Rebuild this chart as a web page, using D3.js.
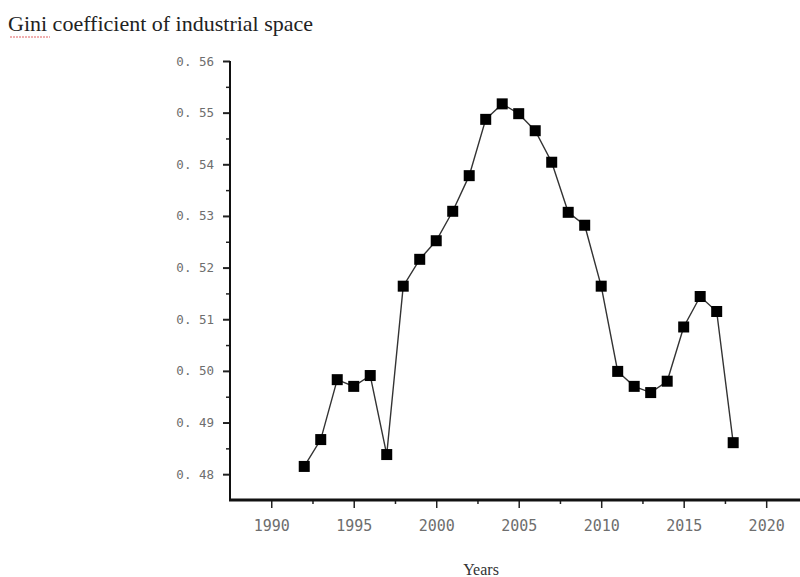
<!DOCTYPE html>
<html>
<head>
<meta charset="utf-8">
<script src="https://cdn.jsdelivr.net/npm/d3@7"></script>
<style>
  body { margin: 0; background: #fff; }
  svg { display: block; }
</style>
</head>
<body>
<svg width="800" height="577"></svg>
<script>
// values
var years = [1992, 1993, 1994, 1995, 1996, 1997, 1998, 1999, 2000, 2001, 2002, 2003, 2004,
             2005, 2006, 2007, 2008, 2009, 2010, 2011, 2012, 2013, 2014, 2015, 2016, 2017, 2018];
var gini = [0.4815, 0.4867, 0.4983, 0.4970, 0.4991, 0.4838, 0.5164, 0.5216, 0.5252, 0.5309,
            0.5378, 0.5487, 0.5517, 0.5498, 0.5465, 0.5404, 0.5307, 0.5282, 0.5164, 0.4999,
            0.4970, 0.4958, 0.4980, 0.5085, 0.5144, 0.5115, 0.4861];
var xTicks = [1990, 1995, 2000, 2005, 2010, 2015, 2020];
var yTicks = [0.48, 0.49, 0.50, 0.51, 0.52, 0.53, 0.54, 0.55, 0.56];

var svg = d3.select("svg");

var x = d3.scaleLinear().domain([1987.5, 2022.05]).range([230, 800]);
var y = d3.scaleLinear().domain([0.475, 0.56]).range([500, 61]);

// title
svg.append("text")
  .attr("x", 8).attr("y", 31)
  .attr("font-family", "Liberation Serif, Times New Roman, serif")
  .attr("font-size", 22)
  .attr("fill", "#222")
  .text("Gini coefficient of industrial space");

// red spell check underline under "Gini"
svg.append("path")
  .attr("d", "M10,37 L50,37")
  .attr("stroke", "#e06060").attr("stroke-width", 1)
  .attr("stroke-dasharray", "2,1");

// minor ticks
var yMinor = yTicks.slice(0, -1).map(function (d) { return d + 0.005; });
var xMinor = xTicks.slice(0, -1).map(function (d) { return d + 2.5; });

svg.append("g")
  .attr("transform", "translate(230,0)")
  .call(d3.axisLeft(y).tickValues(yMinor).tickSize(4).tickFormat(""))
  .call(function (g) { g.select(".domain").remove(); })
  .selectAll("line").attr("stroke", "#222").attr("stroke-width", 1.5);

svg.append("g")
  .attr("transform", "translate(0,500)")
  .call(d3.axisBottom(x).tickValues(xMinor).tickSize(4).tickFormat(""))
  .call(function (g) { g.select(".domain").remove(); })
  .selectAll("line").attr("stroke", "#222").attr("stroke-width", 1.5);

// y axis
var yAxis = svg.append("g")
  .attr("transform", "translate(230,0)")
  .call(d3.axisLeft(y).tickValues(yTicks).tickSize(7).tickPadding(9)
    .tickFormat(function (d) { return d3.format(".2f")(d).replace(".", ". "); }));
yAxis.select(".domain").remove();
yAxis.selectAll("line").attr("stroke", "#222").attr("stroke-width", 2);
yAxis.selectAll("text")
  .attr("font-family", "DejaVu Sans Mono, monospace")
  .attr("font-size", 12.5)
  .attr("fill", "#6e6e6e");

// x axis
var xAxis = svg.append("g")
  .attr("transform", "translate(0,500)")
  .call(d3.axisBottom(x).tickValues(xTicks).tickSize(8).tickPadding(12).tickFormat(d3.format("d")));
xAxis.select(".domain").remove();
xAxis.selectAll("line").attr("stroke", "#222").attr("stroke-width", 1.5);
xAxis.selectAll("text")
  .attr("font-family", "DejaVu Sans Mono, monospace")
  .attr("font-size", 15)
  .attr("fill", "#6e6e6e");

// axis lines
svg.append("line")
  .attr("x1", 230).attr("x2", 230).attr("y1", y(0.56)).attr("y2", 501)
  .attr("stroke", "#111").attr("stroke-width", 2);
svg.append("line")
  .attr("x1", 229).attr("x2", 800).attr("y1", 500).attr("y2", 500)
  .attr("stroke", "#111").attr("stroke-width", 3);

// x axis title
svg.append("text")
  .attr("x", 481).attr("y", 575)
  .attr("text-anchor", "middle")
  .attr("font-family", "Liberation Serif, Times New Roman, serif")
  .attr("font-size", 16)
  .attr("fill", "#333")
  .text("Years");

// data
var pts = years.map(function (d, i) { return [d, gini[i]]; });

var line = d3.line()
  .x(function (d) { return x(d[0]); })
  .y(function (d) { return y(d[1]); });

svg.append("path")
  .datum(pts)
  .attr("d", line)
  .attr("fill", "none")
  .attr("stroke", "#333")
  .attr("stroke-width", 1.4);

var sq = 11;
svg.selectAll("rect.pt")
  .data(pts)
  .enter().append("rect")
  .attr("class", "pt")
  .attr("x", function (d) { return x(d[0]) - sq / 2; })
  .attr("y", function (d) { return y(d[1]) - sq / 2; })
  .attr("width", sq).attr("height", sq)
  .attr("fill", "#000");
</script>
</body>
</html>
